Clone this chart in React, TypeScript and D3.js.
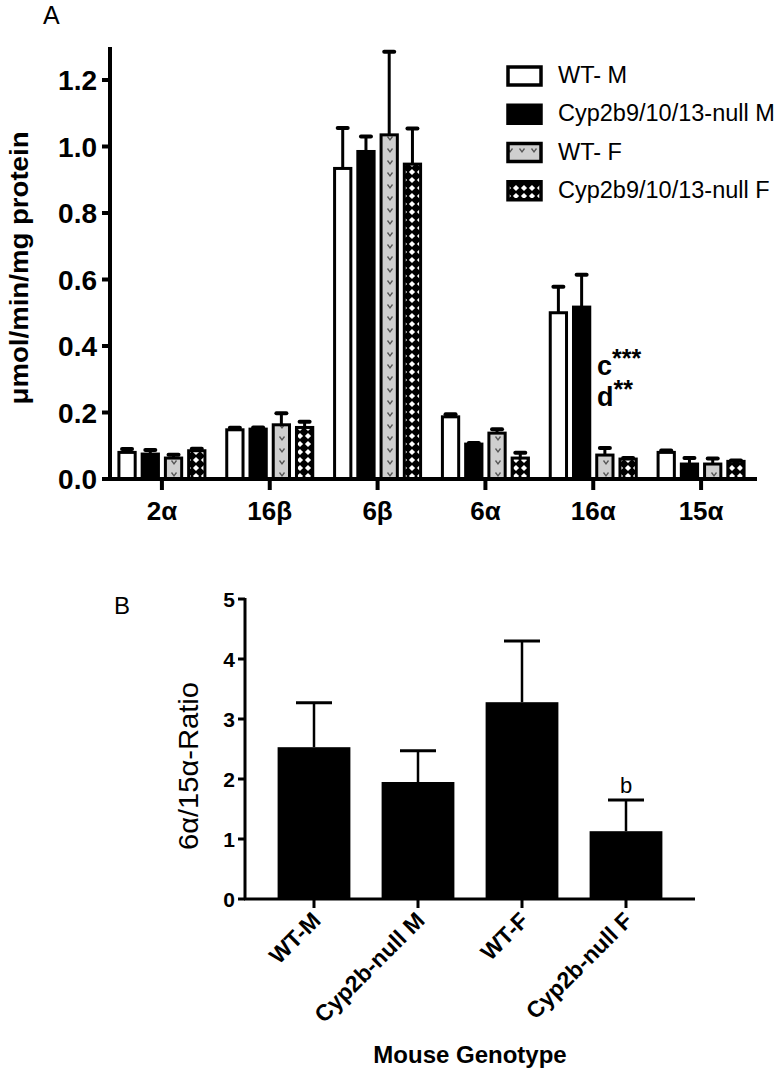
import React from 'react';
import * as d3 from 'd3';

const groupsA = ['2α', '16β', '6β', '6α', '16α', '15α'];
const seriesA = ['WT- M', 'Cyp2b9/10/13-null M', 'WT- F', 'Cyp2b9/10/13-null F'];
const wtM = [0.08, 0.148, 0.934, 0.187, 0.5, 0.08];
const wtMErr = [0.01, 0.006, 0.122, 0.008, 0.078, 0.006];
const nullM = [0.075, 0.15, 0.985, 0.105, 0.517, 0.045];
const nullMErr = [0.012, 0.005, 0.045, 0.003, 0.097, 0.018];
const wtF = [0.063, 0.163, 1.035, 0.138, 0.072, 0.045];
const wtFErr = [0.01, 0.035, 0.25, 0.012, 0.021, 0.017];
const nullF = [0.085, 0.155, 0.947, 0.063, 0.06, 0.053];
const nullFErr = [0.006, 0.017, 0.107, 0.016, 0.003, 0.003];
const ticksA = [0, 0.2, 0.4, 0.6, 0.8, 1.0, 1.2];

const genotypes = ['WT-M', 'Cyp2b-null M', 'WT-F', 'Cyp2b-null F'];
const ratio = [2.53, 1.95, 3.28, 1.13];
const ratioErr = [0.74, 0.52, 1.02, 0.52];
const ticksB = [0, 1, 2, 3, 4, 5];

const seriesVals = [wtM, nullM, wtF, nullF];
const seriesErrs = [wtMErr, nullMErr, wtFErr, nullFErr];
const fills = ['#ffffff', '#000000', 'url(#dotpat)', 'url(#crosspat)'];

const FONT = '"Liberation Sans", Arial, sans-serif';

export default function App() {
  const xA = d3.scaleBand().domain(groupsA).range([108, 755]);
  const xSub = d3.scaleBand().domain(seriesA).range([-43, 43]).paddingInner(0.3);
  const yA = d3.scaleLinear().domain([0, 1.2]).range([479, 80]);

  const xB = d3.scaleBand().domain(genotypes).range([262, 678]).paddingInner(0.3).paddingOuter(0.15);
  const yB = d3.scaleLinear().domain([0, 5]).range([899, 599]);

  const legendY = d3.scaleBand().domain(seriesA).range([57, 210]);

  return (
    <svg width={781} height={1070} style={{ position: 'absolute', left: 0, top: 0, background: '#fff' }} fontFamily={FONT}>
      <defs>
        <pattern id="dotpat" patternUnits="userSpaceOnUse" width={12} height={12}>
          <rect width={12} height={12} fill="#cfcfcf" />
          <path d="M3.5,4.5 L6,8 L8.5,4.5" fill="none" stroke="#555" strokeWidth={1.3} />
        </pattern>
        <pattern id="crosspat" patternUnits="userSpaceOnUse" width={8} height={8}>
          <rect width={8} height={8} fill="#000" />
          <polygon points="4,0.9 7.1,4 4,7.1 0.9,4" fill="#fff" />
        </pattern>
      </defs>

      {/* Panel A */}
      <text x={43} y={24} fontSize={25}>A</text>

      {groupsA.map((g, gi) => (
        <g key={g}>
          {seriesA.map((s, si) => {
            const v = seriesVals[si][gi];
            const e = seriesErrs[si][gi];
            const x0 = (xA(g) as number) + xA.bandwidth() / 2 + (xSub(s) as number);
            const w = xSub.bandwidth();
            const cx = x0 + w / 2;
            return (
              <g key={s}>
                <line x1={cx} x2={cx} y1={yA(v)} y2={yA(v + e)} stroke="#000" strokeWidth={3} />
                <line x1={cx - 5} x2={cx + 5} y1={yA(v + e)} y2={yA(v + e)} stroke="#000" strokeWidth={4} strokeLinecap="round" />
                <rect x={x0} y={yA(v)} width={w} height={yA(0) - yA(v)} fill={fills[si]} stroke="#000" strokeWidth={3} />
              </g>
            );
          })}
        </g>
      ))}

      {/* axes A */}
      <line x1={110} x2={110} y1={47} y2={481} stroke="#000" strokeWidth={4} />
      <line x1={108} x2={757} y1={479} y2={479} stroke="#000" strokeWidth={4} />
      {ticksA.map(t => (
        <g key={t}>
          <line x1={102} x2={110} y1={yA(t)} y2={yA(t)} stroke="#000" strokeWidth={4} />
          <text x={97} y={yA(t)} dy="0.36em" textAnchor="end" fontSize={28} fontWeight="bold">{t.toFixed(1)}</text>
        </g>
      ))}
      {groupsA.map(g => {
        const cx = (xA(g) as number) + xA.bandwidth() / 2;
        return (
          <g key={g}>
            <line x1={cx} x2={cx} y1={479} y2={490} stroke="#000" strokeWidth={4} />
            <text x={cx} y={520} textAnchor="middle" fontSize={26} fontWeight="bold">{g}</text>
          </g>
        );
      })}
      <text transform="translate(28,268) rotate(-90)" textAnchor="middle" fontSize={25} fontWeight="bold" textLength={273} lengthAdjust="spacingAndGlyphs">μmol/min/mg protein</text>

      {/* significance */}
      <text x={597} y={375} fontSize={27} fontWeight="bold">c<tspan fontSize={25} dy={-8}>***</tspan></text>
      <text x={597} y={406} fontSize={27} fontWeight="bold">d<tspan fontSize={25} dy={-8}>**</tspan></text>

      {/* legend */}
      {seriesA.map((s, si) => {
        const yy = (legendY(s) as number);
        return (
          <g key={s}>
            <rect x={508} y={yy + 10} width={33} height={18} fill={fills[si]} stroke="#000" strokeWidth={3.5} />
            <text x={558} y={yy + 26} fontSize={23.5}>{s}</text>
          </g>
        );
      })}

      {/* Panel B */}
      <text x={114} y={614} fontSize={24}>B</text>
      {genotypes.map((g, i) => {
        const x0 = xB(g) as number;
        const w = xB.bandwidth();
        const cx = x0 + w / 2;
        const v = ratio[i];
        const e = ratioErr[i];
        return (
          <g key={g}>
            <line x1={cx} x2={cx} y1={yB(v)} y2={yB(v + e)} stroke="#000" strokeWidth={2.5} />
            <line x1={cx - 18} x2={cx + 18} y1={yB(v + e)} y2={yB(v + e)} stroke="#000" strokeWidth={3} />
            <rect x={x0} y={yB(v)} width={w} height={yB(0) - yB(v)} fill="#000" />
          </g>
        );
      })}
      <text x={(xB('Cyp2b-null F') as number) + xB.bandwidth() / 2} y={793} textAnchor="middle" fontSize={22}>b</text>

      <line x1={245} x2={245} y1={598} y2={900} stroke="#000" strokeWidth={3} />
      <line x1={244} x2={695} y1={899} y2={899} stroke="#000" strokeWidth={3} />
      {ticksB.map(t => (
        <g key={t}>
          <line x1={238} x2={245} y1={yB(t)} y2={yB(t)} stroke="#000" strokeWidth={3} />
          <text x={235} y={yB(t)} dy="0.36em" textAnchor="end" fontSize={21} fontWeight="bold">{t}</text>
        </g>
      ))}
      {genotypes.map(g => {
        const cx = (xB(g) as number) + xB.bandwidth() / 2;
        return (
          <g key={g}>
            <line x1={cx} x2={cx} y1={899} y2={908} stroke="#000" strokeWidth={3} />
            <text transform={`translate(${cx + 8},${922}) rotate(-45)`} textAnchor="end" fontSize={23} fontWeight="bold">{g}</text>
          </g>
        );
      })}
      <text transform="translate(198,766) rotate(-90)" textAnchor="middle" fontSize={28} textLength={168} lengthAdjust="spacingAndGlyphs">6α/15α-Ratio</text>
      <text x={470} y={1063} textAnchor="middle" fontSize={24} fontWeight="bold">Mouse Genotype</text>
    </svg>
  );
}
